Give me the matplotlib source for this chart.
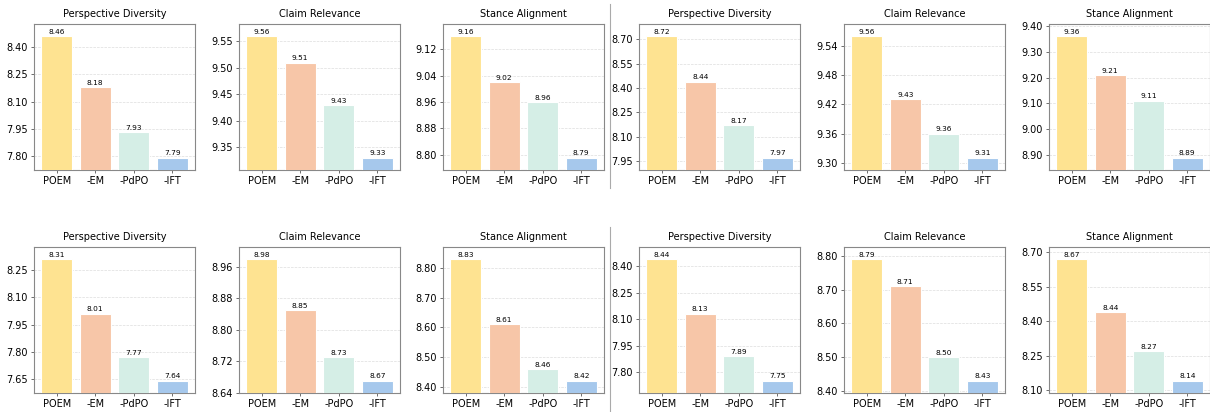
import matplotlib
matplotlib.use("Agg")
import matplotlib.pyplot as plt
from matplotlib.ticker import MultipleLocator, FormatStrFormatter
from matplotlib.lines import Line2D

methods = ["POEM", "-EM", "-PdPO", "-IFT"]
metrics = ["Perspective Diversity", "Claim Relevance", "Stance Alignment"]

# top row: left group, right group
top_left_pd = [8.46, 8.18, 7.93, 7.79]
top_left_cr = [9.56, 9.51, 9.43, 9.33]
top_left_sa = [9.16, 9.02, 8.96, 8.79]
top_right_pd = [8.72, 8.44, 8.17, 7.97]
top_right_cr = [9.56, 9.43, 9.36, 9.31]
top_right_sa = [9.36, 9.21, 9.11, 8.89]
# bottom row
bot_left_pd = [8.31, 8.01, 7.77, 7.64]
bot_left_cr = [8.98, 8.85, 8.73, 8.67]
bot_left_sa = [8.83, 8.61, 8.46, 8.42]
bot_right_pd = [8.44, 8.13, 7.89, 7.75]
bot_right_cr = [8.79, 8.71, 8.50, 8.43]
bot_right_sa = [8.67, 8.44, 8.27, 8.14]

top_steps = [0.15, 0.05, 0.08, 0.15, 0.06, 0.10]
bot_steps = [0.15, 0.08, 0.10, 0.15, 0.10, 0.15]

colors = ["#FEE391", "#F7C6A8", "#D5EEE6", "#A6C8EC"]

rows = [
    [top_left_pd, top_left_cr, top_left_sa, top_right_pd, top_right_cr, top_right_sa],
    [bot_left_pd, bot_left_cr, bot_left_sa, bot_right_pd, bot_right_cr, bot_right_sa],
]
steps = [top_steps, bot_steps]

W, H = 1210, 412
fig = plt.figure(figsize=(W / 100, H / 100), dpi=100)

lefts_px = [34, 239, 443, 639, 844, 1049]
ax_w_px = 161
row_tops_px = [24, 247]
ax_h_px = 146

for r, row in enumerate(rows):
    for c, vals in enumerate(row):
        left = lefts_px[c] / W
        bottom = (H - row_tops_px[r] - ax_h_px) / H
        ax = fig.add_axes([left, bottom, ax_w_px / W, ax_h_px / H])
        x = list(range(len(methods)))
        bars = ax.bar(x, vals, width=0.8, color=colors, edgecolor="white",
                      linewidth=0.8, zorder=3)
        lo, hi = min(vals), max(vals)
        rng = hi - lo
        ax.set_ylim(lo - 0.1 * rng, hi + 0.1 * rng)
        ax.yaxis.set_major_locator(MultipleLocator(steps[r][c]))
        ax.yaxis.set_major_formatter(FormatStrFormatter("%.2f"))
        ax.set_xticks(x)
        ax.set_xticklabels(methods)
        ax.tick_params(axis="both", labelsize=7, length=2.5, width=0.6,
                       pad=2, color="#555555")
        ax.grid(axis="y", linestyle="--", linewidth=0.5, color="#dddddd",
                zorder=0)
        for s in ax.spines.values():
            s.set_color("#888888")
            s.set_linewidth(0.8)
        ax.set_title(metrics[c % 3], fontsize=7, pad=5)
        for b, v in zip(bars, vals):
            ax.annotate(f"{v:.2f}", (b.get_x() + b.get_width() / 2, v),
                        xytext=(0, 1), textcoords="offset points",
                        ha="center", va="bottom", fontsize=5.3)

# vertical separators
sep_x = 609.5 / W
fig.add_artist(Line2D([sep_x, sep_x], [1 - 4 / H, 1 - 188 / H],
                      transform=fig.transFigure, color="#aaaaaa", linewidth=0.8))
fig.add_artist(Line2D([sep_x, sep_x], [1 - 227 / H, 1 - 411 / H],
                      transform=fig.transFigure, color="#aaaaaa", linewidth=0.8))

fig.savefig("out.png", dpi=100, facecolor="white")
